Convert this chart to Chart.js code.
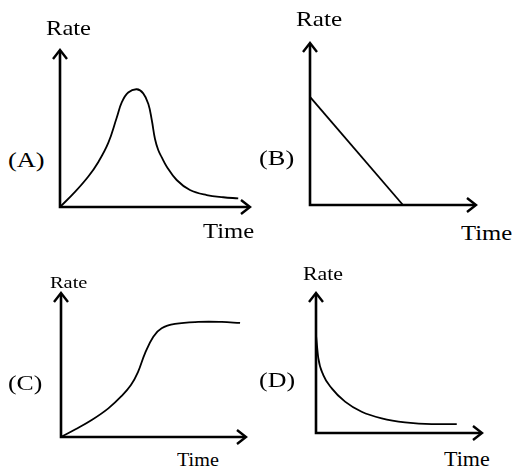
<!DOCTYPE html>
<html>
<head>
<meta charset="utf-8">
<script src="https://cdn.jsdelivr.net/npm/chart.js@4.4.1/dist/chart.umd.min.js"></script>
<style>
  html, body { margin: 0; padding: 0; background: #fff; }
  #wrap { position: relative; width: 516px; height: 468px; overflow: hidden; background: #fff; }
  canvas { position: absolute; }
  .lbl { position: absolute; font-family: "Liberation Serif", "Times New Roman", serif; color: #000;
         line-height: 1; white-space: nowrap; transform-origin: 0 0; }
</style>
</head>
<body>
<div id="wrap"></div>
<script>
// ---- data (arbitrary units 0..10 on each axis) ----
const panelNames = ["(A)", "(B)", "(C)", "(D)"];
const axisTitleX = "Time";
const axisTitleY = "Rate";

const timeA = [0, 0.79, 1.49, 2.02, 2.54, 2.98, 3.26, 3.59, 4.04, 4.38, 4.65, 4.83, 5.0, 5.17, 5.35, 5.62, 6.14, 6.84, 7.72, 8.59, 9.38];
const rateA = [0, 0.96, 1.94, 2.87, 4.08, 5.67, 6.69, 7.29, 7.50, 7.24, 6.56, 5.54, 4.33, 3.63, 3.18, 2.57, 1.72, 1.08, 0.76, 0.62, 0.55];

const timeB = [0, 5.6];
const rateB = [6.67, 0];

const timeC = [0, 0.76, 1.66, 2.56, 3.28, 3.78, 4.16, 4.54, 4.99, 5.44, 6.16, 7.42, 8.69, 9.68];
const rateC = [0, 0.52, 1.18, 1.99, 2.85, 3.61, 4.51, 5.81, 6.97, 7.55, 7.85, 7.99, 7.99, 7.92];

const timeD = [0, 0.14, 0.44, 0.95, 1.75, 2.75, 3.96, 5.36, 6.97, 8.48];
const rateD = [7.0, 5.34, 4.14, 3.19, 2.24, 1.52, 1.05, 0.76, 0.64, 0.64];

// ---- layout (pixel geometry of each small plot) ----
const layout = [
  { ox: 60,  oy: 207, xTip: 250, yTop: 50,  mode: 'default', tension: 0.4,
    labels: { rate: [46, 35.5, 21, 1.17], name: [8, 167, 22, 1.2], time: [203, 238.5, 22, 1.12] } },
  { ox: 310, oy: 205, xTip: 476, yTop: 43,  mode: 'default', tension: 0,
    labels: { rate: [296, 27, 21, 1.2], name: [259, 165, 22, 1.2], time: [461, 240, 22, 1.12] } },
  { ox: 61,  oy: 437, xTip: 246, yTop: 293, mode: 'default', tension: 0.4,
    labels: { rate: [50, 288, 17, 1.2], name: [8, 390, 22, 1.17], time: [177, 466, 18, 1.12] } },
  { ox: 316, oy: 433, xTip: 482, yTop: 293, mode: 'monotone', tension: 0,
    labels: { rate: [303, 280, 19, 1.15], name: [259, 387, 22, 1.18], time: [444, 466, 20, 1.1] } }
];
const series = [[timeA, rateA], [timeB, rateB], [timeC, rateC], [timeD, rateD]];
const PAD = 12;

const wrap = document.getElementById('wrap');

function addLabel(text, spec) {
  const [left, baseline, fs, sx] = spec;
  const d = document.createElement('div');
  d.className = 'lbl';
  d.textContent = text;
  d.style.fontSize = fs + 'px';
  d.style.left = left + 'px';
  d.style.top = (baseline - 0.8375 * fs) + 'px';
  d.style.transform = 'scaleX(' + sx + ')';
  wrap.appendChild(d);
}

const arrowAxes = {
  id: 'arrowAxes',
  beforeDatasetsDraw(chart) {
    const ctx = chart.ctx;
    const xs = chart.scales.x, ys = chart.scales.y;
    const x0 = xs.getPixelForValue(0), x1 = xs.getPixelForValue(10);
    const y0 = ys.getPixelForValue(0), y1 = ys.getPixelForValue(10);
    ctx.save();
    ctx.strokeStyle = '#000';
    ctx.lineWidth = 2.6;
    ctx.lineCap = 'butt';
    ctx.lineJoin = 'miter';
    ctx.beginPath();
    ctx.moveTo(x0, y1 + 1); ctx.lineTo(x0, y0); ctx.lineTo(x1 - 1, y0);
    ctx.stroke();
    // arrow heads
    ctx.lineWidth = 2.4;
    ctx.beginPath();
    ctx.moveTo(x0 - 7, y1 + 9); ctx.lineTo(x0, y1); ctx.lineTo(x0 + 7, y1 + 9);
    ctx.moveTo(x1 - 9, y0 - 7); ctx.lineTo(x1, y0); ctx.lineTo(x1 - 9, y0 + 7);
    ctx.stroke();
    ctx.restore();
  }
};

layout.forEach((L, i) => {
  const w = L.xTip - L.ox + 2 * PAD;
  const h = L.oy - L.yTop + 2 * PAD;
  const c = document.createElement('canvas');
  c.width = w; c.height = h;
  c.style.left = (L.ox - PAD) + 'px';
  c.style.top = (L.yTop - PAD) + 'px';
  c.style.width = w + 'px'; c.style.height = h + 'px';
  wrap.appendChild(c);

  const [tx, ry] = series[i];
  const pts = tx.map((t, k) => ({ x: t, y: ry[k] }));

  new Chart(c.getContext('2d'), {
    type: 'line',
    data: { datasets: [{
      data: pts,
      borderColor: '#000',
      borderWidth: 1.8,
      pointRadius: 0,
      fill: false,
      cubicInterpolationMode: L.mode,
      tension: L.tension,
      clip: false
    }] },
    options: {
      responsive: false,
      animation: false,
      devicePixelRatio: 1,
      layout: { padding: PAD },
      plugins: { legend: { display: false }, tooltip: { enabled: false }, title: { display: false } },
      scales: {
        x: { type: 'linear', min: 0, max: 10, display: false },
        y: { type: 'linear', min: 0, max: 10, display: false }
      }
    },
    plugins: [arrowAxes]
  });

  addLabel(axisTitleY, L.labels.rate);
  addLabel(panelNames[i], L.labels.name);
  addLabel(axisTitleX, L.labels.time);
});
</script>
</body>
</html>
